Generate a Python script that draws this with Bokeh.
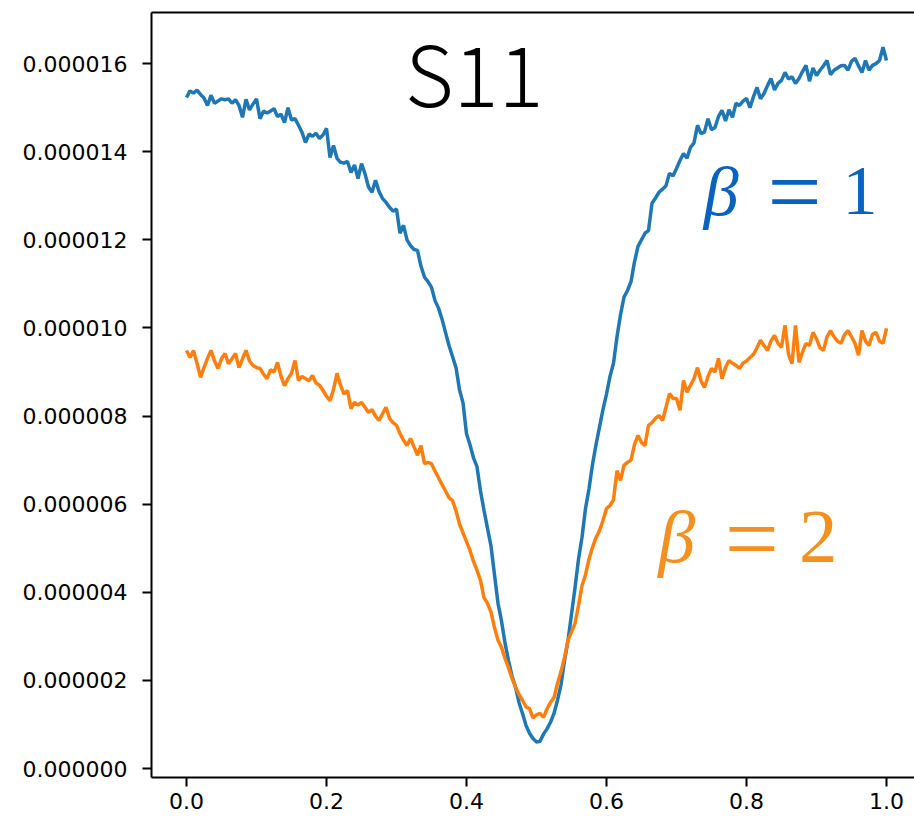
import numpy as np
from bokeh.plotting import figure
from bokeh.models import LinearAxis, FixedTicker, PrintfTickFormatter, Range1d
from bokeh.core.properties import value
from bokeh.embed import file_html
from bokeh.resources import INLINE

# ---- data (values in units of 1e-6) ----
x_vals = np.round(np.arange(201) * 0.005, 3)

beta1_e6 = [
    15.23, 15.38, 15.33, 15.40, 15.30, 15.22, 15.05, 15.28, 15.10, 15.15,
    15.20, 15.18, 15.20, 15.10, 15.18, 15.05, 14.78, 15.19, 14.95, 15.08,
    15.20, 14.75, 14.92, 14.88, 14.92, 14.98, 14.80, 14.85, 14.66, 15.00,
    14.72, 14.75, 14.60, 14.44, 14.21, 14.40, 14.35, 14.42, 14.30, 14.38,
    14.53, 13.87, 14.14, 13.85, 13.76, 13.74, 13.78, 13.53, 13.70, 13.39,
    13.73, 13.50, 13.20, 13.08, 13.35, 13.10, 12.94, 12.85, 12.74, 12.65,
    12.70, 12.15, 12.33, 12.00, 11.87, 11.78, 11.76, 11.40, 11.15, 11.05,
    10.92, 10.62, 10.45, 10.20, 9.90, 9.60, 9.35, 9.10, 8.60, 8.30,
    7.60, 7.35, 7.05, 6.85, 6.30, 5.86, 5.45, 5.05, 4.40, 3.75,
    3.35, 2.85, 2.45, 2.10, 1.85, 1.50, 1.25, 0.98, 0.80, 0.68,
    0.60, 0.62, 0.78, 0.90, 1.05, 1.25, 1.55, 1.90, 2.45, 2.90,
    3.50, 4.10, 4.75, 5.25, 5.90, 6.35, 6.90, 7.35, 7.75, 8.15,
    8.50, 8.90, 9.20, 9.80, 10.30, 10.70, 10.85, 11.05, 11.50, 11.85,
    12.00, 12.15, 12.21, 12.83, 12.95, 13.08, 13.15, 13.23, 13.51, 13.45,
    13.62, 13.80, 13.96, 13.85, 14.10, 14.20, 14.60, 14.41, 14.45, 14.75,
    14.50, 14.55, 14.80, 14.94, 14.70, 14.95, 14.78, 15.10, 15.05, 15.15,
    15.21, 15.00, 15.25, 15.46, 15.20, 15.32, 15.50, 15.66, 15.40, 15.55,
    15.62, 15.80, 15.65, 15.70, 15.55, 15.66, 15.82, 15.96, 15.60, 15.90,
    15.73, 15.85, 15.95, 16.07, 15.75, 15.85, 15.90, 15.95, 15.96, 15.85,
    16.05, 16.12, 15.95, 15.80, 16.07, 15.85, 15.96, 16.00, 16.07, 16.37,
    16.07,
]

beta2_e6 = [
    9.49, 9.33, 9.49, 9.20, 8.88, 9.10, 9.31, 9.49, 9.25, 9.08,
    9.30, 9.42, 9.19, 9.30, 9.42, 9.10, 9.30, 9.49, 9.25, 9.15,
    9.10, 9.08, 8.95, 8.85, 9.05, 9.00, 9.22, 8.90, 8.69, 8.85,
    8.97, 9.26, 8.81, 8.90, 8.85, 8.80, 8.92, 8.75, 8.70, 8.58,
    8.45, 8.35, 8.60, 8.97, 8.70, 8.50, 8.58, 8.17, 8.31, 8.25,
    8.31, 8.20, 8.08, 8.15, 8.00, 7.90, 8.05, 8.20, 7.95, 7.85,
    7.79, 7.60, 7.45, 7.33, 7.49, 7.30, 7.11, 7.33, 6.92, 6.95,
    6.92, 6.75, 6.60, 6.45, 6.30, 6.15, 6.08, 5.85, 5.55, 5.35,
    5.15, 4.95, 4.70, 4.50, 4.27, 3.88, 3.75, 3.55, 3.20, 2.91,
    2.75, 2.50, 2.29, 2.05, 1.85, 1.68, 1.55, 1.40, 1.36, 1.15,
    1.22, 1.25, 1.16, 1.35, 1.50, 1.61, 1.93, 2.20, 2.52, 2.91,
    3.10, 3.29, 3.70, 4.15, 4.40, 4.75, 5.02, 5.24, 5.40, 5.63,
    5.90, 5.97, 6.10, 6.76, 6.54, 6.88, 6.95, 7.00, 7.35, 7.56,
    7.40, 7.33, 7.79, 7.85, 7.95, 8.01, 7.90, 8.20, 8.51, 8.40,
    8.40, 8.13, 8.81, 8.54, 8.70, 8.85, 9.10, 8.80, 8.65, 8.90,
    9.08, 9.00, 9.31, 8.85, 9.10, 9.26, 9.20, 9.15, 9.08, 9.20,
    9.25, 9.33, 9.40, 9.55, 9.72, 9.60, 9.49, 9.70, 9.83, 9.65,
    9.56, 10.06, 9.40, 9.19, 10.06, 9.22, 9.45, 9.65, 9.60, 9.90,
    9.75, 9.55, 9.49, 9.80, 9.94, 9.80, 9.70, 9.65, 9.85, 9.94,
    9.80, 9.65, 9.38, 9.94, 9.70, 9.60, 9.85, 9.90, 9.70, 9.65,
    9.99,
]

x_ticks = [0.0, 0.2, 0.4, 0.6, 0.8, 1.0]
y_ticks = [0.0, 2e-6, 4e-6, 6e-6, 8e-6, 10e-6, 12e-6, 14e-6, 16e-6]

title_text = "S11"
beta_sym = "β"
eq_sym = "="
num1, num2 = "1", "2"

y1 = np.array(beta1_e6) * 1e-6
y2 = np.array(beta2_e6) * 1e-6

# ---- figure ----
p = figure(
    width=914, height=816,
    output_backend="svg", toolbar_location=None,
    x_range=Range1d(-0.05, 1.04), y_range=Range1d(-0.204e-6, 17.16e-6),
    x_axis_location=None, y_axis_location=None,
    min_border_left=151, min_border_right=0, min_border_top=12, min_border_bottom=39,
)
p.frame_width = 763
p.frame_height = 765
p.grid.visible = False
p.outline_line_color = None
p.background_fill_color = "white"
p.border_fill_color = "white"

xaxis = LinearAxis(ticker=FixedTicker(ticks=x_ticks), formatter=PrintfTickFormatter(format="%.1f"))
yaxis = LinearAxis(ticker=FixedTicker(ticks=y_ticks), formatter=PrintfTickFormatter(format="%.6f"))
for ax in (xaxis, yaxis):
    ax.axis_line_width = 2
    ax.axis_line_color = "black"
    ax.major_tick_line_width = 2
    ax.major_tick_out = 9
    ax.major_tick_in = 0
    ax.minor_tick_out = 0
    ax.minor_tick_in = 0
    ax.major_label_text_font = "DejaVu Sans"
    ax.major_label_text_font_size = "22px"
    ax.major_label_text_color = "black"
xaxis.major_label_standoff = 6
yaxis.major_label_standoff = 15
p.add_layout(xaxis, "below")
p.add_layout(yaxis, "left")

top = LinearAxis(ticker=FixedTicker(ticks=[]))
top.axis_line_width = 2
top.axis_line_color = "black"
top.major_tick_out = 0
top.major_tick_in = 0
top.minor_tick_out = 0
top.minor_tick_in = 0
top.major_label_text_font_size = "0px"
top.major_label_standoff = 0
p.add_layout(top, "above")

p.line(x_vals, y1, line_color="#1f77b4", line_width=3.5)
p.line(x_vals, y2, line_color="#ff7f0e", line_width=3.5)

# title inside the axes
p.text(x=[0.312], y=[15.85e-6], text=[title_text],
       text_font=value("'Noto Sans CJK JP Light', 'Noto Sans CJK JP'"),
       text_font_size="84px", text_color="black", text_align="left", text_baseline="alphabetic")

serif = value("Liberation Serif")
c1 = "#0a62bf"
c2 = "#f29021"

def label(xb, xe, xn, yb, ye, num, size, nsize, color):
    p.text(x=[xb], y=[yb], text=[beta_sym], text_font=serif, text_font_style="italic",
           text_font_size=size, text_color=color, text_align="left", text_baseline="alphabetic")
    p.text(x=[xe], y=[ye], text=[eq_sym], text_font=serif,
           text_font_size="96px", text_color=color, text_align="left", text_baseline="alphabetic")
    p.text(x=[xn], y=[yb], text=[num], text_font=serif,
           text_font_size=nsize, text_color=color, text_align="left", text_baseline="alphabetic")

label(0.739, 0.830, 0.937, 13.10e-6, 13.10e-6, num1, "70px", "70px", c1)
label(0.674, 0.769, 0.875, 5.25e-6, 5.22e-6, num2, "74px", "77px", c2)

open("out.html", "w").write(file_html(p, INLINE))
